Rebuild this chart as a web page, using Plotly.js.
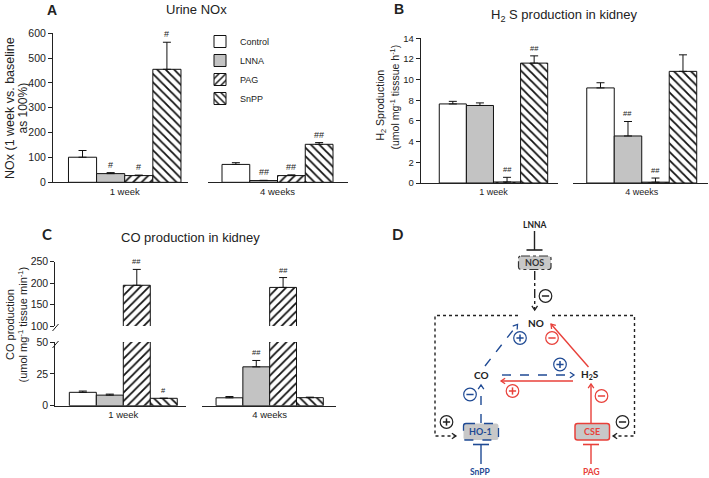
<!DOCTYPE html>
<html><head><meta charset="utf-8">
<script src="https://cdn.plot.ly/plotly-3.0.1.min.js"></script>
<style>html,body{margin:0;padding:0;background:#fff}#chart{width:709px;height:478px}</style>
</head><body><div id="chart"></div>
<script>
// ---------------- DATA ----------------
const groups = ['1 week', '4 weeks'];
const series = ['Control', 'LNNA', 'PAG', 'SnPP'];

// Panel A: Urine NOx (1 week vs. baseline as 100%)
const nox1wk = [101, 35, 27, 455];
const nox1wkErr = [27, 4, 2, 109];
const nox4wk = [72, 7, 27, 153];
const nox4wkErr = [7, 1, 3, 7];
const noxSig1wk = ['', '#', '#', '#'];
const noxSig4wk = ['', '##', '##', '##'];
const noxTicks = [0, 100, 200, 300, 400, 500, 600];

// Panel B: H2S production in kidney
const h2s1wk = [7.65, 7.5, 0.1, 11.6];
const h2s1wkErr = [0.25, 0.25, 0.45, 0.7];
const h2s4wk = [9.2, 4.55, 0.08, 10.8];
const h2s4wkErr = [0.5, 1.4, 0.4, 1.6];
const h2sSig1wk = ['', '', '##', '##'];
const h2sSig4wk = ['', '##', '##', ''];
const h2sTicks = [0, 2, 4, 6, 8, 10, 12, 14];

// Panel C: CO production in kidney (broken axis)
const co1wk = [10.5, 8.3, 195, 5.8];
const co1wkErr = [1, 0.8, 37, 0];
const co4wk = [6.2, 30.5, 190, 6.3];
const co4wkErr = [1, 5, 23, 0.4];
const coSig1wk = ['', '', '##', '#'];
const coSig4wk = ['', '##', '##', ''];
const coTicksLow = [0, 25, 50];
const coTicksHigh = [100, 150, 200, 250];
const coBreak = 50;

// ---------------- HELPERS ----------------
const W = 709, H = 478;
const px = v => v / W;
const py = v => 1 - v / H;
const FONT = 'Liberation Sans, Arial, sans-serif';
const DFONT = 'Lato, Open Sans, sans-serif';

const seriesStyle = [
  {color: '#ffffff'},
  {color: '#c3c3c3'},
  {color: '#ffffff', pattern: {shape: '/', fgcolor: '#111', bgcolor: '#ffffff', size: 6, solidity: 0.3}},
  {color: '#ffffff', pattern: {shape: '\\', fgcolor: '#111', bgcolor: '#ffffff', size: 6, solidity: 0.3}}
];
const BARGAP = 0.2;
const barW = (1 - BARGAP) / series.length;
const barCenters = series.map((_, i) => -(1 - BARGAP) / 2 + barW * (i + 0.5));

const traces = [];
function addBars(xa, ya, g, vals, errs, legend) {
  series.forEach((name, i) => {
    const st = seriesStyle[i];
    const marker = {color: st.color, line: {color: '#111', width: 1}};
    if (st.pattern) marker.pattern = st.pattern;
    traces.push({
      type: 'bar', name, x: [groups[g]], y: [vals[i]], xaxis: xa, yaxis: ya,
      showlegend: legend, marker,
      error_y: {type: 'data', symmetric: false, array: [errs[i]], arrayminus: [0],
                color: '#111', thickness: 1, width: 4},
      hoverinfo: 'skip'
    });
  });
}

const annotations = [];
function sig(marks, vals, errs, xref, yrefFn, size) {
  marks.forEach((m, i) => {
    if (!m) return;
    annotations.push({
      text: m, x: barCenters[i], y: vals[i] + errs[i], xref, yref: yrefFn(vals[i] + errs[i]),
      showarrow: false, yanchor: 'bottom', yshift: 1, font: {family: FONT, size, color: '#222'}
    });
  });
}
function label(text, x, y, size, opts = {}) {
  annotations.push(Object.assign({
    text, x: px(x), y: py(y), xref: 'paper', yref: 'paper', showarrow: false,
    xanchor: 'center', yanchor: 'middle', font: {family: FONT, size, color: '#222'}
  }, opts));
}

function xAxis(d0, d1, r0, r1, anchor, size) {
  return {type: 'category', domain: [px(d0), px(d1)], range: [r0, r1], anchor,
    showline: true, linecolor: '#222', linewidth: 1, ticks: '', showgrid: false, zeroline: false,
    tickfont: {family: FONT, size, color: '#222'}, fixedrange: true};
}
function yAxis(bottom, top, range, tickvals, anchor, size) {
  return {domain: [py(bottom), py(top)], range, tickvals, anchor,
    showline: true, linecolor: '#222', linewidth: 1, ticks: 'outside', ticklen: 4, tickwidth: 1,
    tickcolor: '#222', showgrid: false, zeroline: false,
    tickfont: {family: FONT, size, color: '#222'}, fixedrange: true};
}

// ---------------- PANEL A ----------------
addBars('x', 'y', 0, nox1wk, nox1wkErr, true);
addBars('x2', 'y', 1, nox4wk, nox4wkErr, false);
sig(noxSig1wk, nox1wk, nox1wkErr, 'x', () => 'y', 9);
sig(noxSig4wk, nox4wk, nox4wkErr, 'x2', () => 'y', 9);

// ---------------- PANEL B ----------------
addBars('x3', 'y2', 0, h2s1wk, h2s1wkErr, false);
addBars('x4', 'y2', 1, h2s4wk, h2s4wkErr, false);
sig(h2sSig1wk, h2s1wk, h2s1wkErr, 'x3', () => 'y2', 7.5);
sig(h2sSig4wk, h2s4wk, h2s4wkErr, 'x4', () => 'y2', 7.5);

// ---------------- PANEL C (lower y3, upper y4) ----------------
addBars('x5', 'y3', 0, co1wk, co1wkErr, false);
addBars('x6', 'y3', 1, co4wk, co4wkErr, false);
addBars('x5', 'y4', 0, co1wk, co1wkErr, false);
addBars('x6', 'y4', 1, co4wk, co4wkErr, false);
const coRef = v => (v > coBreak ? 'y4' : 'y3');
sig(coSig1wk, co1wk, co1wkErr, 'x5', coRef, 7.5);
sig(coSig4wk, co4wk, co4wkErr, 'x6', coRef, 7.5);

// ---------------- TEXT ----------------
label('<b>A</b>', 51.7, 9.5, 14);
label('Urine NOx', 196.5, 9, 13);
label('NOx (1 week vs. baseline', 10, 108, 12.5, {textangle: -90});
label('as 100%)', 22.5, 108, 12, {textangle: -90});

label('<b>B</b>', 399, 9.2, 14);
label('H<sub>2</sub> S production in kidney', 564, 15, 13);
label('H<sub>2</sub> Sproduction', 380.5, 105, 10.5, {textangle: -90});
label('(umol mg<sup>-1</sup> tisssue h<sup>-1</sup>)', 393.5, 97, 10.5, {textangle: -90});

label('<b>C</b>', 47, 233.5, 15, {font: {family: DFONT, size: 15, color: '#222'}});
label('CO production in kidney', 190.8, 237, 13);
label('CO production', 10, 325, 11, {textangle: -90});
label('(umol mg<sup>-1</sup> tissue min<sup>-1</sup>)', 22.5, 325, 11, {textangle: -90});

// ---------------- SHAPES (axis break + panel D diagram) ----------------
const shapes = [];
function seg(x0, y0, x1, y1, color, dash, width) {
  shapes.push({type: 'line', xref: 'paper', yref: 'paper', x0: px(x0), y0: py(y0), x1: px(x1), y1: py(y1),
    line: {color, width: width || 1.3, dash: dash || 'solid'}});
}
function poly(pts, color, dash, width) {
  shapes.push({type: 'path', xref: 'paper', yref: 'paper',
    path: 'M' + pts.map(p => px(p[0]) + ',' + py(p[1])).join('L'),
    line: {color, width: width || 1.3, dash: dash || 'solid'}, fillcolor: 'rgba(0,0,0,0)'});
}
function head(tx, ty, ang, color) {
  const len = 5, sp = 0.6;
  const a1 = ang + Math.PI - sp, a2 = ang + Math.PI + sp;
  poly([[tx + len * Math.cos(a1), ty + len * Math.sin(a1)], [tx, ty],
        [tx + len * Math.cos(a2), ty + len * Math.sin(a2)]], color, 'solid', 1.3);
}
function arrow(pts, color, dash) {
  poly(pts, color, dash, 1.4);
  const a = pts[pts.length - 2], b = pts[pts.length - 1];
  head(b[0], b[1], Math.atan2(b[1] - a[1], b[0] - a[0]), color);
}
function inhibit(x, y0, y1, color) {
  seg(x, y0, x, y1, color, 'solid', 1.4);
  seg(x - 8, y1, x + 8, y1, color, 'solid', 1.6);
}
function box(x0, y0, x1, y1, color, dash, width) {
  const r = 2.5;
  const P = (x, y) => px(x) + ',' + py(y);
  const path = 'M' + P(x0 + r, y0) + 'L' + P(x1 - r, y0) + 'Q' + P(x1, y0) + ' ' + P(x1, y0 + r) +
    'L' + P(x1, y1 - r) + 'Q' + P(x1, y1) + ' ' + P(x1 - r, y1) + 'L' + P(x0 + r, y1) +
    'Q' + P(x0, y1) + ' ' + P(x0, y1 - r) + 'L' + P(x0, y0 + r) + 'Q' + P(x0, y0) + ' ' + P(x0 + r, y0) + 'Z';
  shapes.push({type: 'path', xref: 'paper', yref: 'paper', path, fillcolor: '#c8c8c8',
    line: {color, width, dash}});
}
function sign(cx, cy, plus, color) {
  const r = 6.3;
  shapes.push({type: 'circle', xref: 'paper', yref: 'paper', x0: px(cx - r), x1: px(cx + r),
    y0: py(cy + r), y1: py(cy - r), line: {color, width: 1.2}, fillcolor: 'rgba(255,255,255,0)'});
  seg(cx - 3.6, cy, cx + 3.6, cy, color, 'solid', 1.5);
  if (plus) seg(cx, cy - 3.6, cx, cy + 3.6, color, 'solid', 1.5);
}

// axis-break marks on panel C
seg(52.5, 331, 58.5, 324, '#222', 'solid', 1);
seg(52.5, 348, 58.5, 341, '#222', 'solid', 1);

// Panel D
const BLUE = '#1f4a94', RED = '#e8403a', BLK = '#222';
label('<b>D</b>', 397.5, 233.5, 15, {font: {family: DFONT, size: 15, color: '#222'}});
const dl = (t, x, y, c, s) => label('<b>' + t + '</b>', x, y, s || 9, {font: {family: DFONT, size: s || 9, color: c}});

inhibit(534.5, 231, 250, BLK);
dl('LNNA', 535, 224.5, BLK, 8.5);
box(518.5, 256, 551, 269.5, '#333', 'dashdot', 1.2);
dl('NOS', 534.7, 262.8, '#333', 9);
arrow([[534.7, 271], [534.7, 310]], BLK, 'dashdot');
sign(545.5, 296, false, BLK);
dl('NO', 536, 322.5, BLK, 10);

// feedback frame
arrow([[518, 315.5], [435, 315.5], [435, 436], [456, 436]], BLK, 'dot');
arrow([[552, 315.5], [634.5, 315.5], [634.5, 436], [613, 436]], BLK, 'dot');
sign(446.5, 422, true, BLK);
sign(622.5, 422, false, BLK);

dl('CO', 481.5, 374.5, BLK, 10);
dl('H<sub>2</sub>S', 590, 374.5, BLK, 10);

arrow([[485, 366], [517.5, 324.5]], BLUE, 'dash');
sign(520, 338, true, BLUE);
arrow([[588.5, 367], [551, 324]], RED, 'solid');
sign(552, 338, false, RED);

arrow([[502, 375], [574, 375]], BLUE, 'dash');
sign(560, 364.5, true, BLUE);
arrow([[573, 381], [501, 381]], RED, 'solid');
sign(512.5, 391, true, RED);

arrow([[481, 423], [481, 385]], BLUE, 'dash');
sign(470, 394.5, false, BLUE);
arrow([[591, 423], [591, 384]], RED, 'solid');
sign(601.5, 396, false, RED);

box(463.5, 423.5, 498.5, 440, BLUE, 'dash', 1.3);
dl('HO-1', 481, 431.8, BLUE, 9);
box(575, 423.5, 609.5, 440, RED, 'solid', 1.5);
dl('CSE', 592.2, 431.8, RED, 9);

inhibit(481, 464, 444.5, BLUE);
inhibit(591, 464, 444.5, RED);
dl('SnPP', 481, 471.5, BLUE, 8.5);
dl('PAG', 591, 471.5, RED, 8.5);

// ---------------- LAYOUT ----------------
const layout = {
  width: W, height: H, margin: {l: 0, r: 0, t: 0, b: 0},
  paper_bgcolor: '#ffffff', plot_bgcolor: 'rgba(0,0,0,0)',
  barmode: 'group', bargap: BARGAP, bargroupgap: 0,
  font: {family: FONT, size: 10, color: '#222'},
  hovermode: false, showlegend: true,
  legend: {x: px(200), y: py(27), xanchor: 'left', yanchor: 'top', bgcolor: 'rgba(0,0,0,0)',
    font: {family: FONT, size: 9, color: '#222'}, tracegroupgap: 0, itemwidth: 30},
  // Panel A
  xaxis: xAxis(53, 188, -0.510, 0.450, 'y', 9.5),
  xaxis2: xAxis(208, 348, -0.501, 0.508, 'y', 9.5),
  yaxis: yAxis(182.3, 33.3, [0, 600], noxTicks, 'x', 10.5),
  // Panel B
  xaxis3: xAxis(420.7, 558, -0.537, 0.476, 'y2', 9),
  xaxis4: xAxis(573, 708, -0.500, 0.482, 'y2', 9),
  yaxis2: yAxis(183, 38.3, [0, 14], h2sTicks, 'x3', 9.5),
  // Panel C
  xaxis5: xAxis(55.3, 185.5, -0.504, 0.461, 'y3', 9.5),
  xaxis6: xAxis(201.7, 335.5, -0.507, 0.491, 'y3', 9.5),
  yaxis3: yAxis(405.7, 342, [0, 50], coTicksLow, 'x5', 10.5),
  yaxis4: yAxis(326, 261.7, [100, 250], coTicksHigh, 'x5', 10.5),
  annotations, shapes
};

Plotly.newPlot('chart', traces, layout, {staticPlot: true, displayModeBar: false});
</script>
</body></html>
